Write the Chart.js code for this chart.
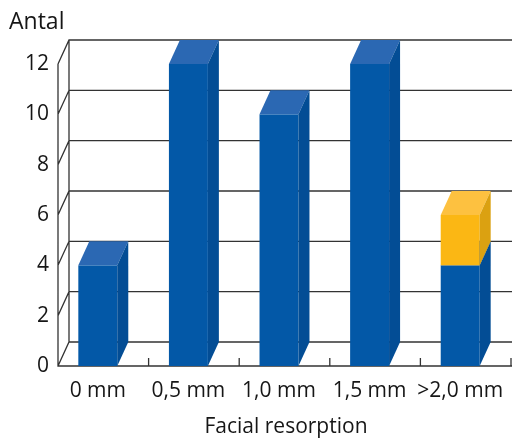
<!DOCTYPE html>
<html>
<head>
<meta charset="utf-8">
<script src="https://cdn.jsdelivr.net/npm/chart.js@4/dist/chart.umd.min.js"></script>
<style>
  html, body { margin: 0; padding: 0; background: #ffffff; }
  #wrap { width: 512px; height: 440px; position: relative; }
</style>
</head>
<body>
<div id="wrap"><canvas id="c" width="512" height="440"></canvas></div>
<script>
// Number of cases per facial resorption class
const categories = ['0 mm', '0,5 mm', '1,0 mm', '1,5 mm', '>2,0 mm'];
const baseCounts = [4, 12, 10, 12, 4];
const extraCounts = [0, 0, 0, 0, 2];
const yTicks = [0, 2, 4, 6, 8, 10, 12];
const yTitle = 'Antal';
const xTitle = 'Facial resorption';

const FONT = '"Open Sans", "DejaVu Sans", sans-serif';
const DEPTH_X = 11;
const DEPTH_Y = -24;
const LINE = '#333333';
const TEXT = '#161616';

// Face colours: front, top, side
const shades = {
  blue:   { front: '#0358a7', top: '#2b68b3', side: '#034d95' },
  yellow: { front: '#fbb714', top: '#fdc140', side: '#dba111' }
};

// Back wall, left wall and floor of the 3D box
const framePlugin = {
  id: 'frame3d',
  beforeDatasetsDraw(chart) {
    const { ctx, chartArea: a, scales } = chart;
    const y = scales.y;
    ctx.save();
    ctx.strokeStyle = LINE;
    ctx.lineWidth = 1.3;
    ctx.beginPath();
    yTicks.forEach(v => {
      const yf = y.getPixelForValue(v);
      const yb = yf + DEPTH_Y;
      ctx.moveTo(a.left, yf);
      ctx.lineTo(a.left + DEPTH_X, yb);
      ctx.lineTo(a.right + DEPTH_X + 20, yb);
    });
    // back wall edge
    ctx.moveTo(a.left + DEPTH_X, a.top + DEPTH_Y);
    ctx.lineTo(a.left + DEPTH_X, a.bottom + DEPTH_Y);
    // front axis
    ctx.moveTo(a.left, a.top);
    ctx.lineTo(a.left, a.bottom);
    ctx.lineTo(a.right + 2, a.bottom);
    // category separators on the floor edge
    const n = categories.length;
    for (let i = 1; i <= n; i++) {
      const px = a.left + (a.right - a.left) * i / n;
      ctx.moveTo(px, a.bottom);
      ctx.lineTo(px, a.bottom - 8);
    }
    ctx.stroke();
    ctx.restore();
  }
};

// Extruded bars: front, top and side faces
const barsPlugin = {
  id: 'bars3d',
  afterDatasetsDraw(chart) {
    const { ctx } = chart;
    ctx.save();
    chart.data.datasets.forEach((ds, di) => {
      const meta = chart.getDatasetMeta(di);
      const sh = shades[ds.shade];
      meta.data.forEach((bar, i) => {
        if (!ds.data[i]) return;
        const p = bar.getProps(['x', 'y', 'base', 'width'], true);
        const x0 = p.x - p.width / 2 - DEPTH_X / 2;
        const x1 = x0 + p.width;
        const yt = Math.min(p.y, p.base), yb = Math.max(p.y, p.base);
        ctx.fillStyle = sh.front;
        ctx.fillRect(x0, yt, x1 - x0, yb - yt);
        ctx.fillStyle = sh.top;
        ctx.beginPath();
        ctx.moveTo(x0, yt);
        ctx.lineTo(x0 + DEPTH_X, yt + DEPTH_Y);
        ctx.lineTo(x1 + DEPTH_X, yt + DEPTH_Y);
        ctx.lineTo(x1, yt);
        ctx.closePath();
        ctx.fill();
        ctx.fillStyle = sh.side;
        ctx.beginPath();
        ctx.moveTo(x1, yt);
        ctx.lineTo(x1 + DEPTH_X, yt + DEPTH_Y);
        ctx.lineTo(x1 + DEPTH_X, yb + DEPTH_Y);
        ctx.lineTo(x1, yb);
        ctx.closePath();
        ctx.fill();
      });
    });
    ctx.restore();
  },
  afterDraw(chart) {
    const { ctx, chartArea: a, scales } = chart;
    ctx.save();
    ctx.fillStyle = TEXT;
    ctx.font = '21px ' + FONT;
    ctx.textBaseline = 'middle';
    // category labels, kept inside the canvas
    categories.forEach((lab, i) => {
      const w = ctx.measureText(lab).width;
      let cx = scales.x.getPixelForValue(i) - DEPTH_X / 2;
      cx = Math.min(cx, chart.width - 4 - w / 2);
      ctx.textAlign = 'center';
      ctx.fillText(lab, cx, a.bottom + 25);
    });
    ctx.textAlign = 'center';
    ctx.fillText(xTitle, 286, a.bottom + 61);
    ctx.font = '23px ' + FONT;
    ctx.textAlign = 'left';
    ctx.fillText(yTitle, 9, 22);
    ctx.restore();
  }
};

new Chart(document.getElementById('c'), {
  type: 'bar',
  data: {
    labels: categories,
    datasets: [
      { data: baseCounts, shade: 'blue', backgroundColor: 'rgba(0,0,0,0)', categoryPercentage: 1, barPercentage: 0.43 },
      { data: extraCounts, shade: 'yellow', backgroundColor: 'rgba(0,0,0,0)', categoryPercentage: 1, barPercentage: 0.43 }
    ]
  },
  options: {
    responsive: false,
    animation: false,
    events: [],
    layout: { padding: { top: 64, right: 1, left: 0, bottom: 0 } },
    plugins: { legend: { display: false }, tooltip: { enabled: false } },
    scales: {
      x: {
        stacked: true,
        grid: { display: false },
        border: { display: false },
        ticks: { display: false },
        afterFit(s) { s.height = 74; s.paddingLeft = 0; s.paddingRight = 0; }
      },
      y: {
        stacked: true,
        min: 0, max: 12,
        grid: { display: false, drawTicks: false },
        border: { display: false },
        ticks: {
          stepSize: 2,
          color: TEXT,
          padding: 9,
          font: { family: FONT, size: 21 }
        },
        afterFit(s) { s.width = 58; s.paddingTop = 0; s.paddingBottom = 0; }
      }
    }
  },
  plugins: [framePlugin, barsPlugin]
});
</script>
</body>
</html>
